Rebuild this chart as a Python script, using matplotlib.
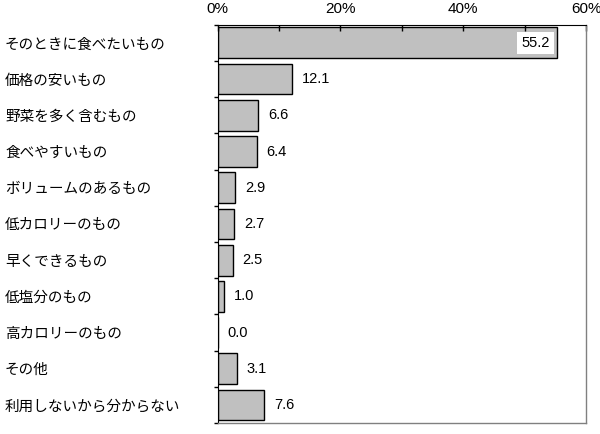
import matplotlib
matplotlib.use("Agg")
import matplotlib.pyplot as plt
from matplotlib.ticker import MultipleLocator, FuncFormatter

categories = [
    "そのときに食べたいもの",
    "価格の安いもの",
    "野菜を多く含むもの",
    "食べやすいもの",
    "ボリュームのあるもの",
    "低カロリーのもの",
    "早くできるもの",
    "低塩分のもの",
    "高カロリーのもの",
    "その他",
    "利用しないから分からない",
]
values = [55.2, 12.1, 6.6, 6.4, 2.9, 2.7, 2.5, 1.0, 0.0, 3.1, 7.6]

plt.rcParams["font.family"] = ["Noto Sans CJK JP", "DejaVu Sans"]

fig = plt.figure(figsize=(6, 4.34), dpi=100)
ax = fig.add_axes([0.3625, 0.025, 0.977 - 0.3625, 0.918])

pos = list(range(len(categories)))
ax.barh(pos, values, height=0.85, color="#c0c0c0", edgecolor="black", linewidth=1.0)

ax.set_xlim(0, 60)
ax.set_ylim(len(categories) - 0.5, -0.5)

num_font = ["Liberation Sans", "DejaVu Sans"]
for i, v in enumerate(values):
    if v > 40:
        ax.text(v - 1.2, i, f"{v:.1f}", ha="right", va="center", fontsize=10.5,
                family=num_font,
                bbox=dict(facecolor="white", edgecolor="none", pad=3))
    else:
        ax.text(v + 1.6, i, f"{v:.1f}", ha="left", va="center", fontsize=10.5,
                family=num_font)

# top axis
ax.xaxis.set_ticks_position("top")
ax.xaxis.set_major_locator(MultipleLocator(20))
ax.xaxis.set_minor_locator(MultipleLocator(10))
ax.xaxis.set_major_formatter(FuncFormatter(lambda x, p: f"{int(x)}%"))
ax.tick_params(axis="x", which="both", direction="in", length=4, width=1, pad=6,
               labelsize=11)
for lab in ax.get_xticklabels():
    lab.set_family(num_font)

# left axis: category labels, ticks between categories
ax.set_yticks(pos)
ax.set_yticklabels(categories, fontsize=10.5, ha="left")
ax.tick_params(axis="y", which="major", length=0, pad=153)
ax.set_yticks([p + 0.5 for p in pos[:-1]] + [-0.5, len(pos) - 0.5], minor=True)
ax.tick_params(axis="y", which="minor", direction="out", length=3, width=1)

for side in ["right", "bottom"]:
    ax.spines[side].set_color("#808080")
    ax.spines[side].set_linewidth(1)
ax.spines["left"].set_color("black")
ax.spines["top"].set_color("black")

fig.savefig("out.png", dpi=100)
